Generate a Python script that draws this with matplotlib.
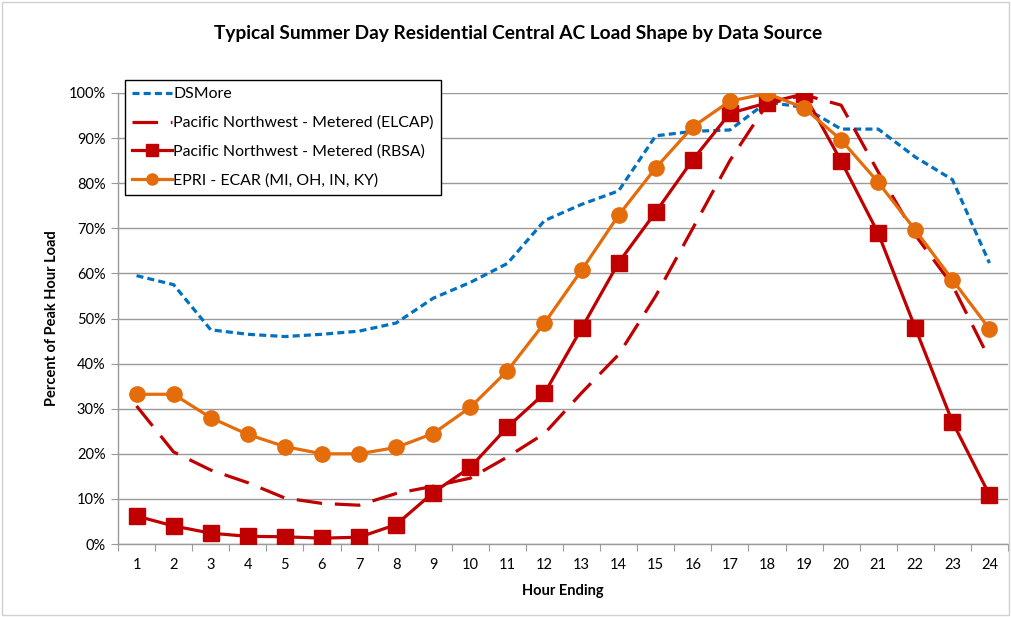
import matplotlib
matplotlib.use("Agg")
import matplotlib.pyplot as plt
from matplotlib.ticker import FuncFormatter, FixedLocator, NullFormatter
from matplotlib.patches import Rectangle

plt.rcParams['font.family'] = ['Lato', 'DejaVu Sans']

hours = list(range(1, 25))
dsmore = [59.5, 57.5, 47.5, 46.5, 46.0, 46.5, 47.2, 49.0, 54.5, 58.0, 62.2, 71.7,
          75.3, 78.3, 90.5, 91.5, 91.8, 98.0, 96.8, 92.0, 92.0, 85.8, 80.8, 62.3]
elcap = [30.6, 20.4, 16.4, 13.6, 10.2, 9.0, 8.6, 11.2, 12.8, 14.6, 19.3, 24.5,
         33.5, 42.0, 55.0, 70.0, 85.0, 97.5, 99.6, 97.3, 82.5, 68.5, 57.4, 41.0]
rbsa = [6.2, 4.0, 2.4, 1.7, 1.6, 1.3, 1.5, 4.3, 11.4, 17.0, 25.9, 33.4,
        47.8, 62.4, 73.6, 85.2, 95.5, 97.8, 99.8, 84.9, 68.9, 47.9, 27.1, 10.9]
epri = [33.2, 33.2, 28.0, 24.3, 21.6, 20.0, 20.0, 21.4, 24.5, 30.3, 38.4, 49.0,
        60.7, 72.9, 83.4, 92.5, 98.2, 99.9, 96.7, 89.6, 80.2, 69.6, 58.6, 47.7]
series_names = ["DSMore", "Pacific Northwest - Metered (ELCAP)",
                "Pacific Northwest - Metered (RBSA)", "EPRI - ECAR (MI, OH, IN, KY)"]

blue = "#0070C0"
red = "#C00000"
orange = "#E46C0A"

fig = plt.figure(figsize=(10.11, 6.17), dpi=100)
ax = fig.add_axes([118/1011, 1-544/617, (1008-118)/1011, (544-93)/617])

ax.plot(hours, dsmore, color=blue, lw=2.3, linestyle=(0, (2.2, 1.3)), label=series_names[0], zorder=3)
ax.plot(hours, elcap, color=red, lw=2.3, linestyle=(0, (8, 4)), label=series_names[1], zorder=3)
ax.plot(hours, rbsa, color=red, lw=2.3, marker='s', markersize=11, markerfacecolor=red,
        markeredgecolor=red, label=series_names[2], zorder=4)
ax.plot(hours, epri, color=orange, lw=2.3, marker='o', markersize=11, markerfacecolor=orange,
        markeredgecolor=orange, label=series_names[3], zorder=5)

ax.set_xlim(0.5, 24.5)
ax.set_ylim(0, 100)
ax.set_yticks(range(0, 101, 10))
ax.yaxis.set_major_formatter(FuncFormatter(lambda v, p: f"{int(v)}%"))
ax.grid(axis='y', color='#9a9a9a', lw=1.0)
ax.set_axisbelow(True)

ax.xaxis.set_major_locator(FixedLocator([h + 0.5 for h in [0] + hours]))
ax.xaxis.set_major_formatter(NullFormatter())
ax.set_xticks(hours, minor=True)
ax.set_xticklabels([str(h) for h in hours], minor=True)
ax.tick_params(axis='x', which='minor', length=0, labelsize=10.5, pad=10)
ax.tick_params(axis='x', which='major', length=5, color='#9a9a9a', direction='out')
ax.tick_params(axis='y', length=5, color='#9a9a9a', labelsize=10.5, pad=4)

for s in ['top', 'right']:
    ax.spines[s].set_visible(False)
for s in ['left', 'bottom']:
    ax.spines[s].set_color('#9a9a9a')
    ax.spines[s].set_linewidth(1.0)

ax.set_xlabel("Hour Ending", fontsize=10.5, fontweight='bold', labelpad=9)
ax.set_ylabel("Percent of Peak Hour Load", fontsize=10.5, fontweight='bold', labelpad=7)
fig.text(0.512, 1-33/617, "Typical Summer Day Residential Central AC Load Shape by Data Source",
         ha='center', va='center', fontsize=13.8, fontweight='bold')

leg = ax.legend(loc='upper left', bbox_to_anchor=((125-118)/890, 1+(93-80)/451),
                frameon=True, fancybox=False, edgecolor='black', fontsize=11.4,
                handlelength=2.5, handletextpad=0.1, borderpad=0.45, labelspacing=0.92,
                borderaxespad=0)
leg.get_frame().set_linewidth(1.0)
leg.get_frame().set_alpha(1)
for h in leg.legend_handles:
    h.set_markersize(8)

fig.patches.append(Rectangle((0.002, 0.003), 0.996, 0.994, transform=fig.transFigure,
                             fill=False, edgecolor='#d0d0d0', lw=1))

fig.savefig("out.png", dpi=100)
